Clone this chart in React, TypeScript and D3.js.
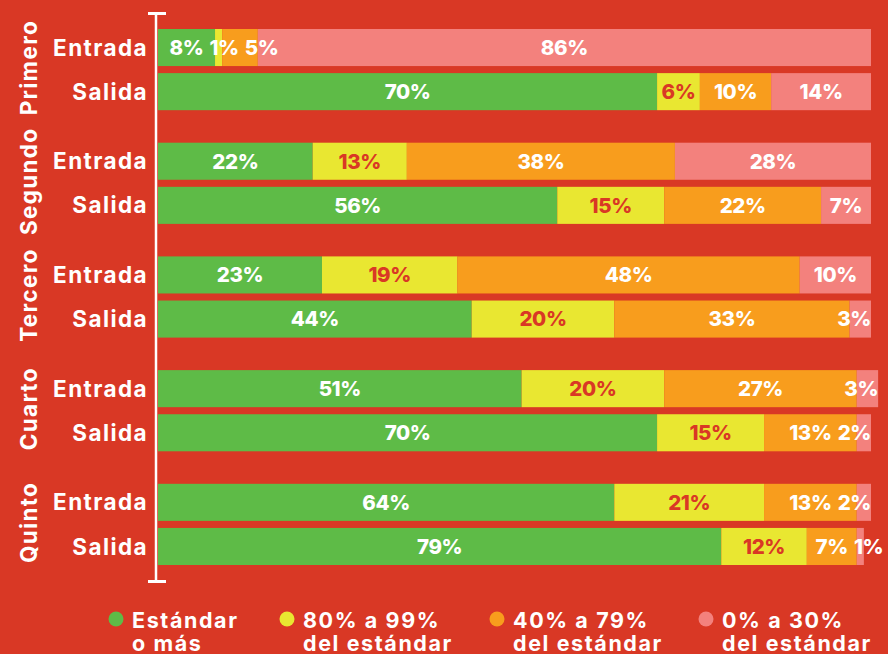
import React, { useEffect, useRef } from "react";
import * as d3 from "d3";

const grades = ["Primero", "Segundo", "Tercero", "Cuarto", "Quinto"];
const moments = ["Entrada", "Salida"];
const seriesKeys = ["estandar", "ochenta", "cuarenta", "cero"];
const legendLine1 = ["Estándar", "80% a 99%", "40% a 79%", "0% a 30%"];
const legendLine2 = ["o más", "del estándar", "del estándar", "del estándar"];
// order: Primero Entrada, Primero Salida, Segundo Entrada, ...
const estandar = [8, 70, 21.7, 56, 23, 44, 51, 70, 64, 79];
const ochenta = [1, 6, 13.2, 15, 19, 20, 20, 15, 21, 12];
const cuarenta = [5, 10, 37.6, 22, 48, 33, 27, 13, 13, 7];
const cero = [86, 14, 27.5, 7, 10, 3, 3, 2, 2, 1];

const colors = ["#5EBB47", "#E9E731", "#F89D1D", "#F3817D"];
const BG = "#D93825";
const labelColors = ["#FFFFFF", "#D93825", "#FFFFFF", "#FFFFFF"];
const FONT = "Inter, 'Open Sans', sans-serif";

export default function App() {
  const ref = useRef<SVGSVGElement | null>(null);

  useEffect(() => {
    const svg = d3.select(ref.current);
    svg.selectAll("*").remove();
    const W = 888, H = 654;
    svg.append("rect").attr("width", W).attr("height", H).attr("fill", BG);

    const rows = grades.flatMap((g, gi) =>
      moments.map((m, mi) => {
        const i = gi * 2 + mi;
        return {
          grade: g,
          moment: m,
          estandar: estandar[i],
          ochenta: ochenta[i],
          cuarenta: cuarenta[i],
          cero: cero[i],
        };
      })
    );

    const x = d3.scaleLinear().domain([0, 100]).range([158, 871]);
    const yGroup = d3.scaleBand<string>().domain(grades).range([29, 565]).paddingInner(0.286).paddingOuter(0);
    const yInner = d3.scaleBand<string>().domain(moments).range([0, yGroup.bandwidth()]).paddingInner(0.16).paddingOuter(0);

    const stacked = d3.stack<any>().keys(seriesKeys)(rows);

    const gBars = svg.append("g");
    stacked.forEach((layer, li) => {
      gBars
        .selectAll(null)
        .data(layer)
        .enter()
        .append("rect")
        .attr("x", (d) => x(d[0]))
        .attr("width", (d) => x(d[1]) - x(d[0]))
        .attr("y", (d: any) => (yGroup(d.data.grade) as number) + (yInner(d.data.moment) as number))
        .attr("height", yInner.bandwidth())
        .attr("fill", colors[li]);
    });

    // value labels with collision avoidance
    const gLab = svg.append("g");
    rows.forEach((row, ri) => {
      const yc = (yGroup(row.grade) as number) + (yInner(row.moment) as number) + yInner.bandwidth() / 2;
      const items = stacked.map((layer, li) => {
        const d = layer[ri];
        const v = row[seriesKeys[li] as keyof typeof row] as number;
        const t = gLab
          .append("text")
          .text(`${Math.round(v)}%`)
          .attr("y", yc)
          .attr("dy", "0.36em")
          .attr("text-anchor", "middle")
          .attr("font-family", FONT)
          .attr("font-weight", 800)
          .attr("font-size", 20.5)
          .attr("letter-spacing", -0.4)
          .attr("fill", labelColors[li]);
        const w = (t.node() as SVGTextElement).getComputedTextLength();
        const x0 = x(d[0]), x1 = x(d[1]);
        if (w > x1 - x0) t.attr("fill", "#FFFFFF");
        return { t, x0, x1, w, li };
      });
      let prevRight = -Infinity;
      items.forEach((it, k) => {
        let c = (it.x0 + it.x1) / 2;
        if (k === items.length - 1 && it.w > it.x1 - it.x0) c = it.x1 - it.w / 2;
        let left = c - it.w / 2;
        if (left < prevRight + 6) left = prevRight + 6;
        it.t.attr("x", left + it.w / 2);
        prevRight = left + it.w;
      });
    });

    // axis line
    const ax = svg.append("g").attr("stroke", "#FFFFFF");
    ax.append("line").attr("x1", 156).attr("x2", 156).attr("y1", 13).attr("y2", 582).attr("stroke-width", 2.5);
    ax.append("line").attr("x1", 148).attr("x2", 166).attr("y1", 13.5).attr("y2", 13.5).attr("stroke-width", 3);
    ax.append("line").attr("x1", 148).attr("x2", 166).attr("y1", 581.5).attr("y2", 581.5).attr("stroke-width", 3);

    // row labels
    rows.forEach((row) => {
      const yc = (yGroup(row.grade) as number) + (yInner(row.moment) as number) + yInner.bandwidth() / 2;
      svg
        .append("text")
        .text(row.moment)
        .attr("x", 148)
        .attr("y", yc)
        .attr("dy", "0.36em")
        .attr("text-anchor", "end")
        .attr("font-family", FONT)
        .attr("font-weight", 700)
        .attr("font-size", 22.5)
        .attr("letter-spacing", 1.4)
        .attr("fill", "#FFFFFF");
    });

    // group labels
    grades.forEach((g) => {
      const yc = (yGroup(g) as number) + yGroup.bandwidth() / 2 - 2;
      svg
        .append("text")
        .text(g)
        .attr("transform", `translate(37,${yc}) rotate(-90)`)
        .attr("text-anchor", "middle")
        .attr("font-family", FONT)
        .attr("font-weight", 700)
        .attr("font-size", 22.5)
        .attr("letter-spacing", 1.3)
        .attr("fill", "#FFFFFF");
    });

    // legend
    const legendX = [116, 287, 497, 706];
    const lg = svg.append("g");
    legendX.forEach((cx, i) => {
      lg.append("circle").attr("cx", cx).attr("cy", 619).attr("r", 7.5).attr("fill", colors[i]);
      const t = lg
        .append("text")
        .attr("font-family", FONT)
        .attr("font-weight", 700)
        .attr("font-size", 21.5)
        .attr("letter-spacing", 1.6)
        .attr("fill", "#FFFFFF");
      t.append("tspan").attr("x", cx + 16).attr("y", 628).text(legendLine1[i]);
      t.append("tspan").attr("x", cx + 16).attr("y", 651).text(legendLine2[i]);
    });
  }, []);

  return (
    <svg
      ref={ref}
      width={888}
      height={654}
      style={{ position: "absolute", left: 0, top: 0, display: "block" }}
    />
  );
}
